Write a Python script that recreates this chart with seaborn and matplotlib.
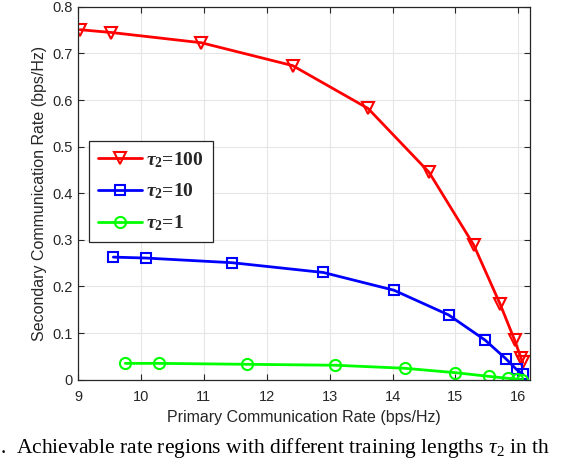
import matplotlib
matplotlib.use("Agg")
import matplotlib.pyplot as plt
import seaborn as sns
import pandas as pd

# values
rate_primary_100 = [9.03, 9.53, 10.96, 12.41, 13.61, 14.58, 15.29, 15.71, 15.94, 16.04, 16.07]
rate_second_100 = [0.751, 0.745, 0.723, 0.674, 0.582, 0.445, 0.289, 0.162, 0.085, 0.047, 0.037]

rate_primary_10 = [9.56, 10.08, 11.45, 12.90, 14.02, 14.89, 15.47, 15.80, 15.97, 16.07]
rate_second_10 = [0.263, 0.261, 0.251, 0.230, 0.192, 0.139, 0.085, 0.045, 0.022, 0.012]

rate_primary_1 = [9.75, 10.29, 11.69, 13.09, 14.19, 15.00, 15.54, 15.83, 15.98, 16.05]
rate_second_1 = [0.035, 0.035, 0.033, 0.031, 0.0245, 0.015, 0.007, 0.003, 0.001, 0.0]

series_labels = [r'$\tau_2$=100', r'$\tau_2$=10', r'$\tau_2$=1']
x_ticks = [9, 10, 11, 12, 13, 14, 15, 16]
y_ticks = [0, 0.1, 0.2, 0.3, 0.4, 0.5, 0.6, 0.7, 0.8]
y_tick_labels = ['0', '0.1', '0.2', '0.3', '0.4', '0.5', '0.6', '0.7', '0.8']

sns.set_style("white")
plt.rcParams['font.family'] = ['Liberation Sans', 'DejaVu Sans']
plt.rcParams['mathtext.fontset'] = 'custom'
plt.rcParams['mathtext.it'] = 'Liberation Serif:italic:bold'
plt.rcParams['mathtext.rm'] = 'Liberation Serif:bold'
plt.rcParams['mathtext.bf'] = 'Liberation Serif:bold'
# plain italic / plain upright for the caption
plt.rcParams['mathtext.sf'] = 'Liberation Serif:italic'
plt.rcParams['mathtext.tt'] = 'Liberation Serif'

fig = plt.figure(figsize=(5.66, 4.58), dpi=100)
ax = fig.add_axes([0.138, 0.171, 0.799, 0.814])

styles = [
    (rate_primary_100, rate_second_100, 'red', 'v', 9),
    (rate_primary_10, rate_second_10, 'blue', 's', 6.5),
    (rate_primary_1, rate_second_1, '#00ff00', 'o', 8),
]
for (xs, ys, col, mk, ms), lab in zip(styles, series_labels):
    df = pd.DataFrame({'primary': xs, 'secondary': ys})
    sns.lineplot(data=df, x='primary', y='secondary', ax=ax, sort=False,
                 color=col, linewidth=2, marker=mk, markersize=ms,
                 markerfacecolor='none', markeredgecolor=col, markeredgewidth=1.5,
                 label=lab)

ax.set_xlim(9, 16.19)
ax.set_ylim(0, 0.8)
ax.set_xticks(x_ticks)
ax.set_yticks(y_ticks)
ax.set_yticklabels(y_tick_labels)
ax.grid(True, color='#e6e6e6', linewidth=0.8)
ax.set_axisbelow(True)
for s in ax.spines.values():
    s.set_color('#262626')
    s.set_linewidth(0.9)
ax.tick_params(direction='in', length=4, width=0.8, color='#262626',
               labelsize=10.5, labelcolor='#262626', top=True, right=True,
               bottom=True, left=True, pad=4)
ax.tick_params(axis='x', pad=7.5)
ax.set_xlabel('Primary Communication Rate (bps/Hz)', fontsize=11.5, color='#262626', labelpad=4)
ax.set_ylabel('Secondary Communication Rate (bps/Hz)', fontsize=11.5, color='#262626', labelpad=4)

leg = ax.legend(loc='upper left', bbox_to_anchor=(0.024, 0.64),
                prop={'family': 'Liberation Serif', 'weight': 'bold', 'size': 14},
                frameon=True, fancybox=False, framealpha=1, edgecolor='#262626',
                handlelength=2.3, borderpad=0.45, labelspacing=0.62, handletextpad=0.2,
                borderaxespad=0)
leg.get_frame().set_linewidth(0.9)

# figure caption fragment seen under the plot
fig.text(0.0, 0.012, r'.  Achievable rate regions with different training lengths $\mathsf{\tau}_{\mathtt{2}}$ in th',
         fontsize=15.5, family=['Liberation Serif', 'DejaVu Serif'], color='black')

fig.savefig("out.png", dpi=100)
